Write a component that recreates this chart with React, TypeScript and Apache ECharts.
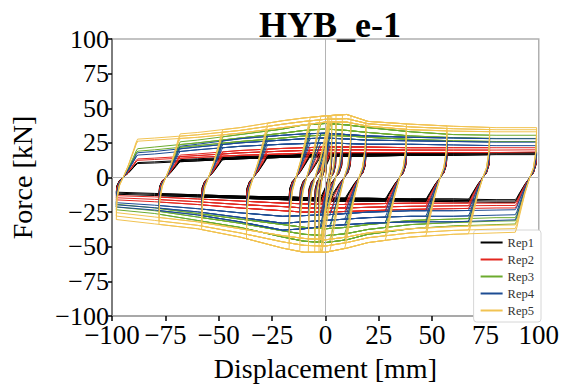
import { useEffect, useRef } from 'react';
import * as echarts from 'echarts';

// Displacement nodes (mm) at which the plateau forces were read
const D_GRID = [-100, -80, -60, -40, -20, -10, 0, 10, 20, 40, 60, 80, 100];

// Loading protocol: negative / positive peak displacements (mm) of each cycle
const NEG_PEAKS = [-3, -3, -5, -5, -8, -8, -12, -12, -17, -17, -17, -37, -37, -37, -58, -58, -58, -78, -78, -78, -98, -98, -98];
const POS_PEAKS = [3, 3, 5, 5, 8, 8, 12, 12, 19, 19, 19, 38, 38, 38, 57, 57, 57, 77, 77, 77, 99, 99, 99];
// which band the cycle follows: 0 = first cycle (upper edge), 1 = last repeat (lower edge), 2 = middle repeat
const CYCLE_SET = [0, 1, 0, 1, 0, 1, 0, 1, 0, 2, 1, 0, 2, 1, 0, 2, 1, 0, 2, 1, 0, 2, 1];

const REP_NAMES = ['Rep1', 'Rep2', 'Rep3', 'Rep4', 'Rep5'];
const REP_COLORS = ['#000000', '#e3261f', '#6cab2e', '#1d4c93', '#f1c352'];

// Forces (kN) read at D_GRID: top plateau / bottom plateau, first, last and middle cycles
const REP1_TOP_HI = [10.5, 12, 13.5, 15, 16, 16.5, 17, 17.5, 17.5, 17.5, 17.5, 18, 18];
const REP1_TOP_LO = [9.5, 10.5, 12, 13.5, 14.5, 15, 15, 15.5, 15.5, 16, 16, 16.5, 16.5];
const REP1_TOP_MID = [10, 11.3, 12.8, 14.2, 15.2, 15.8, 16, 16.5, 16.5, 16.8, 16.8, 17.2, 17.2];
const REP1_BOT_HI = [-12, -13, -14, -15, -16, -16.5, -17, -17, -17, -17, -17.5, -18, -18];
const REP1_BOT_LO = [-10.5, -11.5, -12.5, -13.5, -14, -14.5, -15, -15, -15, -15.5, -15.5, -16, -16];
const REP1_BOT_MID = [-11.2, -12.2, -13.2, -14.2, -15, -15.5, -16, -16, -16, -16.2, -16.5, -17, -17];

const REP2_TOP_HI = [13.5, 15, 17, 19.5, 21, 21.5, 22, 22, 22, 21.5, 21.5, 21.5, 21.5];
const REP2_TOP_LO = [11.5, 13, 14.5, 16, 17, 17.5, 18, 18, 18, 18, 18, 18, 18.5];
const REP2_TOP_MID = [12.5, 14, 15.8, 17.8, 19, 19.5, 20, 20, 20, 19.8, 19.8, 19.8, 20];
const REP2_BOT_HI = [-16, -17.5, -19.5, -22, -24, -25, -25, -24.5, -24, -23, -22.5, -22, -22];
const REP2_BOT_LO = [-13, -14, -15.5, -17, -18.5, -19, -19.5, -19.5, -19, -18.5, -18.5, -18.5, -18.5];
const REP2_BOT_MID = [-14.5, -15.8, -17.5, -19.5, -21, -22, -22, -22, -21.5, -20.8, -20.5, -20.2, -20.2];

const REP3_TOP_HI = [21, 24, 27, 31, 35, 38, 39, 38, 36, 33, 31, 30.5, 30.5];
const REP3_TOP_LO = [17.5, 20, 23, 26, 28.5, 30, 30.5, 30, 29, 27.5, 26.5, 26, 26];
const REP3_TOP_MID = [19, 22, 25, 28.5, 32, 34, 35, 34, 32.5, 30, 28.8, 28.2, 28.2];
const REP3_BOT_HI = [-23, -26, -31, -36, -43, -46, -47, -45, -41, -37, -35, -34, -33];
const REP3_BOT_LO = [-19, -22, -26, -30, -34, -36, -37, -36, -34, -31, -30, -29, -29];
const REP3_BOT_MID = [-21, -24, -28.5, -33, -38.5, -41, -42, -40.5, -37.5, -34, -32.5, -31.5, -31];

const REP4_TOP_HI = [18, 20.5, 24, 28, 30.5, 31.5, 32, 31, 30, 29, 28.5, 28, 28];
const REP4_TOP_LO = [15, 17, 20, 22.5, 24, 24.5, 25, 24.5, 24, 24, 23.5, 23, 23];
const REP4_TOP_MID = [16.5, 18.8, 22, 25, 27, 28, 28.5, 27.8, 27, 26.5, 26, 25.5, 25.5];
const REP4_BOT_HI = [-21, -23.5, -27, -32, -38, -37, -35, -34, -33, -32, -32, -31, -30];
const REP4_BOT_LO = [-18, -20, -22.5, -25.5, -28, -27.5, -27, -26, -25, -24, -24, -23.5, -23];
const REP4_BOT_MID = [-19.5, -21.8, -24.8, -28.8, -33, -32, -31, -30, -29, -28, -28, -27.2, -26.5];

const REP5_TOP_HI = [28, 30, 32.5, 36, 41, 43, 44.5, 45.5, 40.5, 38.5, 37, 36, 36];
const REP5_TOP_LO = [25, 27, 29, 32, 36, 38, 40, 40, 37, 34.5, 33.5, 33, 33];
const REP5_TOP_MID = [26.5, 28.5, 30.8, 34, 38.5, 40.5, 42, 42.5, 38.8, 36.5, 35.2, 34.5, 34.5];
const REP5_BOT_HI = [-30, -33.5, -37, -43, -51, -54, -54, -51, -47, -43, -41, -40, -39];
const REP5_BOT_LO = [-25, -28.5, -32, -37, -42, -44, -45, -43, -40, -37, -35.5, -34.5, -34];
const REP5_BOT_MID = [-27.5, -31, -34.5, -40, -46.5, -49, -49.5, -47, -43.5, -40, -38.2, -37.2, -36.5];

const REP_TOPS = [
  [REP1_TOP_HI, REP1_TOP_LO, REP1_TOP_MID],
  [REP2_TOP_HI, REP2_TOP_LO, REP2_TOP_MID],
  [REP3_TOP_HI, REP3_TOP_LO, REP3_TOP_MID],
  [REP4_TOP_HI, REP4_TOP_LO, REP4_TOP_MID],
  [REP5_TOP_HI, REP5_TOP_LO, REP5_TOP_MID],
];
const REP_BOTS = [
  [REP1_BOT_HI, REP1_BOT_LO, REP1_BOT_MID],
  [REP2_BOT_HI, REP2_BOT_LO, REP2_BOT_MID],
  [REP3_BOT_HI, REP3_BOT_LO, REP3_BOT_MID],
  [REP4_BOT_HI, REP4_BOT_LO, REP4_BOT_MID],
  [REP5_BOT_HI, REP5_BOT_LO, REP5_BOT_MID],
];

const FONT = "'Liberation Serif', 'DejaVu Serif', serif";

function envAt(env: number[], d: number): number {
  if (d <= D_GRID[0]) return env[0];
  for (let i = 1; i < D_GRID.length; i++) {
    if (d <= D_GRID[i]) {
      const t = (d - D_GRID[i - 1]) / (D_GRID[i] - D_GRID[i - 1]);
      return env[i - 1] + t * (env[i] - env[i - 1]);
    }
  }
  return env[env.length - 1];
}

// plateau: read nodes strictly between from and to, in travel order, then end point
function plateau(env: number[], from: number, to: number): number[][] {
  const pts: number[][] = [];
  const nodes = D_GRID.map((d, i) => [d, env[i]]).filter(([d]) =>
    from < to ? d > from && d < to : d < from && d > to
  );
  if (from > to) nodes.reverse();
  nodes.forEach((p) => pts.push(p));
  pts.push([to, envAt(env, to)]);
  return pts;
}

// S-shaped force reversal between two plateaus
const S_SHAPE = [
  [0.03, 0.55, 0],
  [0.15, 0.2, 0],
  [0.32, 0, 0],
  [0.55, 0, 0.3],
  [0.8, 0, 0.7],
  [0.93, 0, 0.92],
];
function reversal(x0: number, f0: number, x1: number, f1: number): number[][] {
  const pts = S_SHAPE.map(([t, a, b]) => [x0 + t * (x1 - x0), a * f0 + b * f1]);
  pts.push([x1, f1]);
  return pts;
}

function buildRep(r: number): number[][] {
  const tops = REP_TOPS[r];
  const bots = REP_BOTS[r];
  const path: number[][] = [[0, 0]];
  let x = 0;
  for (let k = 0; k < NEG_PEAKS.length; k++) {
    const set = CYCLE_SET[k];
    const nextSet = k + 1 < CYCLE_SET.length ? CYCLE_SET[k + 1] : set;
    const top = tops[set];
    const bot = bots[set];
    const P = POS_PEAKS[k];
    const N = NEG_PEAKS[k];
    const w = Math.min(10, 0.75 * (P - N));
    if (k === 0) {
      path.push([1, envAt(top, 1)]);
      x = 1;
    }
    path.push(...plateau(top, x, P));
    const fTop = envAt(top, P);
    const xb = P - w;
    path.push(...reversal(P, fTop, xb, envAt(bot, xb)));
    path.push(...plateau(bot, xb, N));
    const xt = N + w;
    path.push(...reversal(N, envAt(bot, N), xt, envAt(tops[nextSet], xt)));
    x = xt;
  }
  return path;
}

export default function App() {
  const ref = useRef<HTMLDivElement>(null);
  useEffect(() => {
    if (!ref.current) return;
    const chart = echarts.init(ref.current, undefined, { renderer: 'svg' });
    const fmt = (v: number) => (v < 0 ? '\u2212' + Math.abs(v) : String(v));
    const series: any[] = [
      {
        type: 'line',
        data: [],
        silent: true,
        z: 1,
        markLine: {
          silent: true,
          symbol: 'none',
          label: { show: false },
          lineStyle: { color: '#b4b4b4', width: 1, type: 'solid' },
          data: [{ xAxis: 0 }, { yAxis: 0 }],
        },
      },
    ];
    REP_NAMES.forEach((name, r) => {
      series.push({
        name,
        type: 'line',
        data: buildRep(r),
        showSymbol: false,
        symbol: 'none',
        z: 2 + r,
        lineStyle: { color: REP_COLORS[r], width: 1 },
        itemStyle: { color: REP_COLORS[r] },
      });
    });
    chart.setOption({
      animation: false,
      backgroundColor: '#ffffff',
      title: {
        text: 'HYB_e-1',
        left: 325,
        top: 2,
        textAlign: 'center',
        textStyle: { fontFamily: FONT, fontWeight: 'bold', fontSize: 36, color: '#000' },
      },
      grid: {
        left: 106,
        right: 19,
        top: 39,
        bottom: 63,
        show: true,
        borderColor: '#b0b0b0',
        borderWidth: 1.5,
        containLabel: false,
      },
      legend: {
        data: REP_NAMES,
        orient: 'vertical',
        right: 21,
        bottom: 65,
        icon: 'rect',
        itemWidth: 22,
        itemHeight: 2,
        itemGap: 4,
        padding: [6, 7, 5, 7],
        backgroundColor: '#ffffff',
        borderColor: '#d6d6d6',
        borderWidth: 1,
        borderRadius: 3,
        textStyle: { fontFamily: FONT, fontSize: 12.5, color: '#333' },
      },
      xAxis: {
        type: 'value',
        min: -100,
        max: 100,
        interval: 25,
        name: 'Displacement [mm]',
        nameLocation: 'middle',
        nameGap: 38,
        nameTextStyle: { fontFamily: FONT, fontSize: 28, color: '#000' },
        axisLine: { show: true, onZero: false, lineStyle: { color: '#a0a0a0', width: 1.5 } },
        axisTick: { show: true, length: 5, lineStyle: { color: '#000', width: 1.5 } },
        axisLabel: { fontFamily: FONT, fontSize: 27, color: '#000', margin: 5, formatter: fmt },
        splitLine: { show: false },
      },
      yAxis: {
        type: 'value',
        min: -100,
        max: 100,
        interval: 25,
        name: 'Force [kN]',
        nameLocation: 'middle',
        nameGap: 76,
        nameRotate: 90,
        nameTextStyle: { fontFamily: FONT, fontSize: 28, color: '#000' },
        axisLine: { show: true, onZero: false, lineStyle: { color: '#666', width: 1.5 } },
        axisTick: { show: true, length: 4, lineStyle: { color: '#000', width: 1.5 } },
        axisLabel: { fontFamily: FONT, fontSize: 26, color: '#000', margin: 3, formatter: fmt },
        splitLine: { show: false },
      },
      series,
    });
    return () => chart.dispose();
  }, []);
  return (
    <div
      ref={ref}
      style={{ position: 'fixed', left: 0, top: 0, width: 562, height: 387, background: '#fff' }}
    />
  );
}
